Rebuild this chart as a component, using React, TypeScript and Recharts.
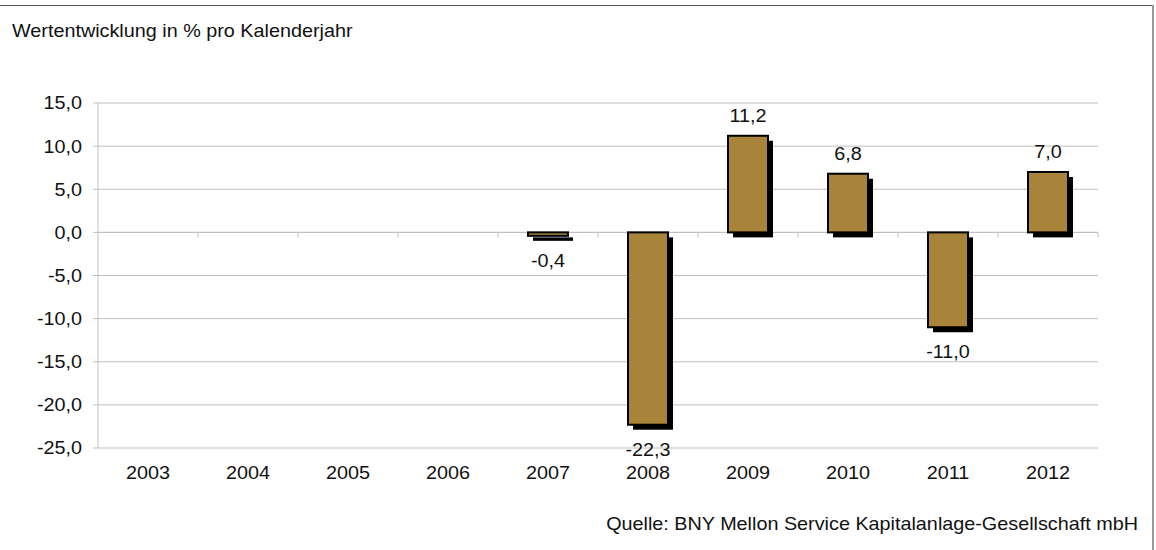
import React from 'react';
import {
  BarChart,
  Bar,
  XAxis,
  YAxis,
  CartesianGrid,
  ReferenceLine,
  LabelList,
} from 'recharts';

const years = ['2003', '2004', '2005', '2006', '2007', '2008', '2009', '2010', '2011', '2012'];
const returns: (number | null)[] = [null, null, null, null, -0.4, -22.3, 11.2, 6.8, -11.0, 7.0];
const yTicks = [-25, -20, -15, -10, -5, 0, 5, 10, 15];

const data = years.map((year, i) => ({ year, value: returns[i] }));

const FONT = '"Liberation Sans", Arial, sans-serif';
const FS = 18;
const SX = 1.1; // the source picture's text is a bit wider than tall
const BAR_FILL = '#A8843A';
const GRID = '#c0c0c0';
const SHADOW = 5;

const fmt = (v: number) => v.toFixed(1).replace('.', ',');

const WideText = ({ x, y, anchor = 'start', dy = 0, children }: any) => (
  <text
    transform={`translate(${x},${y}) scale(${SX},1)`}
    x={0}
    y={0}
    dy={dy}
    textAnchor={anchor}
    fontSize={FS}
    fontFamily={FONT}
    fill="#111"
  >
    {children}
  </text>
);

// front bar with a black drop shadow, like the old Excel look
const ShadowBar = (props: any) => {
  const { x, y, width, height, value } = props;
  if (value == null || width == null) return null;
  const top = Math.min(y, y + height);
  const h = Math.abs(height);
  return (
    <g>
      <rect x={x + SHADOW} y={top + SHADOW} width={width} height={h} fill="#000" />
      <rect x={x} y={top} width={width} height={h} fill={BAR_FILL} stroke="#000" strokeWidth={2} />
    </g>
  );
};

const ValueLabel = (props: any) => {
  const { x, y, width, height, value } = props;
  if (value == null) return null;
  const top = Math.min(y, y + height);
  const bottom = Math.max(y, y + height);
  const ty = value >= 0 ? top - 14 : bottom + 31;
  return (
    <WideText x={x + width / 2} y={ty} anchor="middle">
      {fmt(value)}
    </WideText>
  );
};

const YearTick = (props: any) => {
  const { x, y, payload } = props;
  return (
    <WideText x={x} y={y} anchor="middle" dy="0.71em">
      {payload.value}
    </WideText>
  );
};

const ValueTick = (props: any) => {
  const { x, y, payload } = props;
  return (
    <WideText x={x} y={y} anchor="end" dy="0.355em">
      {fmt(payload.value)}
    </WideText>
  );
};

// zero line with small ticks at the category boundaries
const ZeroLine = (props: any) => {
  const { x1, y1, x2 } = props;
  const n = years.length;
  const step = (x2 - x1) / n;
  return (
    <g>
      <line x1={x1} y1={y1} x2={x2} y2={y1} stroke={GRID} strokeWidth={1} />
      {years.map((_, i) => (
        <line
          key={i}
          x1={x1 + step * (i + 1)}
          x2={x1 + step * (i + 1)}
          y1={y1}
          y2={y1 + 5}
          stroke={GRID}
          strokeWidth={1}
        />
      ))}
    </g>
  );
};

export default function App() {
  return (
    <div style={{ position: 'relative', width: 1156, height: 550, background: '#fff', fontFamily: FONT }}>
      <style>{`body{margin:0}`}</style>
      <BarChart
        width={1156}
        height={550}
        data={data}
        margin={{ top: 103, right: 58, bottom: 62, left: 0 }}
      >
        <CartesianGrid horizontal vertical={false} stroke={GRID} />
        <ReferenceLine y={0} shape={ZeroLine} zIndex={-50} />
        <XAxis
          dataKey="year"
          height={40}
          axisLine={false}
          tickLine={false}
          tickSize={8}
          tickMargin={10}
          interval={0}
          tick={<YearTick />}
        />
        <YAxis
          width={98}
          domain={[-25, 15]}
          ticks={yTicks}
          interval={0}
          axisLine={{ stroke: GRID }}
          tickLine={{ stroke: GRID }}
          tickSize={5}
          tickMargin={11}
          tick={<ValueTick />}
        />
        <Bar dataKey="value" barSize={40} shape={ShadowBar} isAnimationActive={false}>
          <LabelList dataKey="value" content={ValueLabel} />
        </Bar>
      </BarChart>
      <svg
        width={1156}
        height={550}
        style={{ position: 'absolute', left: 0, top: 0, pointerEvents: 'none' }}
      >
        <line x1={0} y1={5.5} x2={1153} y2={5.5} stroke="#555" strokeWidth={1} />
        <line x1={1153} y1={5} x2={1153} y2={550} stroke="#999" strokeWidth={2} />
        <WideText x={12} y={37}>Wertentwicklung in % pro Kalenderjahr</WideText>
        <WideText x={1138} y={530} anchor="end">
          Quelle: BNY Mellon Service Kapitalanlage-Gesellschaft mbH
        </WideText>
      </svg>
    </div>
  );
}
